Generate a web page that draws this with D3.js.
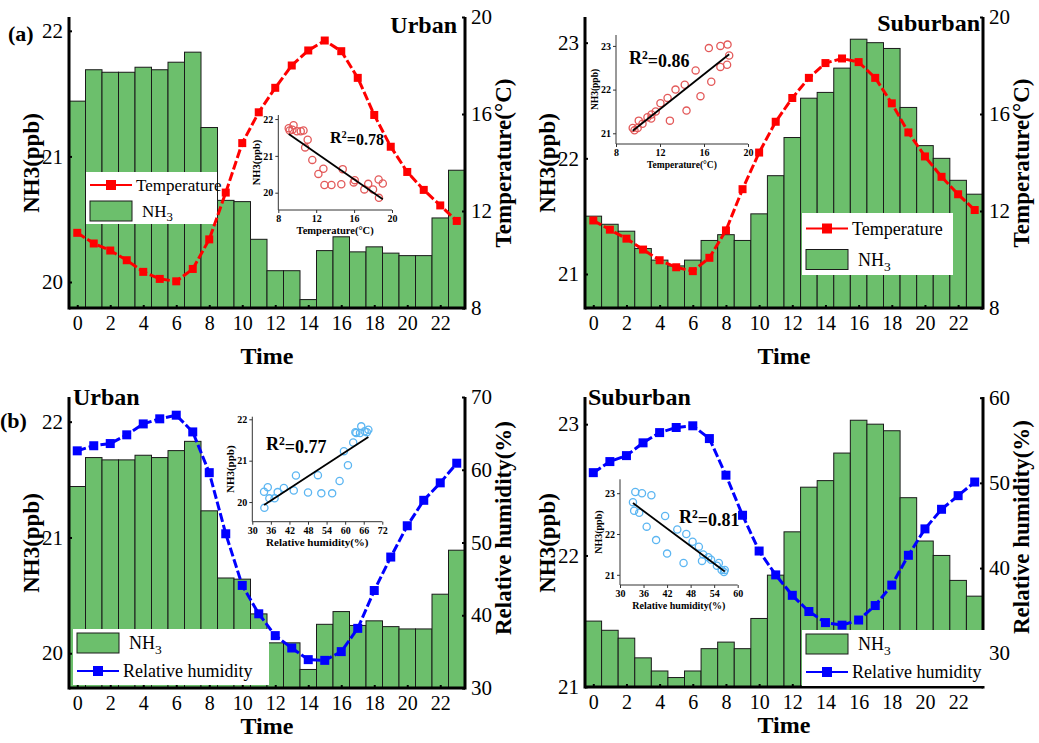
<!DOCTYPE html>
<html>
<head>
<meta charset="utf-8">
<script src="https://cdn.jsdelivr.net/npm/d3@7"></script>
<style>
  body { margin: 0; background: #fff; }
  svg { display: block; }
  text { font-family: "Liberation Serif", "Times New Roman", serif; }
</style>
</head>
<body>
<svg id="chart" width="1039" height="743"></svg>
<script>
// ---------------- DATA ----------------
const hours = [0,1,2,3,4,5,6,7,8,9,10,11,12,13,14,15,16,17,18,19,20,21,22,23];
const hourTicks = [0,2,4,6,8,10,12,14,16,18,20,22];

const urbanNH3 = [21.44,21.69,21.67,21.67,21.71,21.69,21.75,21.83,21.23,20.65,20.64,20.34,
                  20.09,20.09,19.86,20.25,20.36,20.24,20.28,20.23,20.21,20.21,20.51,20.89];
const suburbanNH3 = [21.50,21.43,21.37,21.22,21.12,21.07,21.12,21.29,21.34,21.29,21.52,21.85,
                     22.18,22.52,22.57,22.78,23.03,23.00,22.95,22.44,22.11,22.00,21.81,21.69];
const urbanTemp = [11.10,10.66,10.37,9.97,9.49,9.20,9.10,9.61,10.83,12.76,14.80,16.07,
                   17.08,18.00,18.62,19.03,18.59,17.49,15.96,14.65,13.61,12.87,12.23,11.59];
const suburbanTemp = [11.61,11.23,10.86,10.41,9.97,9.68,9.52,10.07,11.20,12.90,14.41,15.68,
                      16.66,17.49,18.10,18.29,18.14,17.49,16.44,15.24,14.25,13.41,12.69,12.04];
const urbanRH = [62.6,63.3,63.6,64.8,66.3,67.0,67.5,65.2,59.6,51.2,44.1,40.2,
                 37.2,35.5,33.9,33.8,35.0,38.2,43.4,48.0,52.3,55.8,58.2,60.9];
const suburbanRH = [51.2,52.5,53.2,54.7,55.9,56.5,56.7,55.2,50.9,46.2,42.0,39.2,
                    36.8,34.9,33.6,33.3,33.9,35.6,38.0,41.5,44.6,46.9,48.5,50.1];

const r2Labels = ["0.78", "0.86", "0.77", "0.81"];
const urbanNH3Ticks = [20, 21, 22];
const suburbanNH3Ticks = [21, 22, 23];
const tempTicks = [8, 12, 16, 20];
const urbanRHTicks = [30, 40, 50, 60, 70];
const suburbanRHTicks = [30, 40, 50, 60];
const insetTempTicks = [8, 12, 16, 20];
const insetUrbanRHTicks = [30, 36, 42, 48, 54, 60, 66, 72];
const insetSuburbanRHTicks = [30, 36, 42, 48, 54, 60];

// ---------------- STYLE ----------------
const barFill = "#6cbf6c";
const red = "#ff0000";
const blue = "#0000ff";
const scatterRed = "#e35a5a";
const scatterBlue = "#5cb6f2";
const serif = '"Liberation Serif", "Times New Roman", serif';

const svg = d3.select("#chart");

function panel(cfg) {
  const g = svg.append("g");
  const x = d3.scaleLinear().domain([-0.5, 23.5]).range([cfg.x0, cfg.x1]);
  const yL = d3.scaleLinear().domain(cfg.leftDomain).range([cfg.y1, cfg.y0]);
  const yR = d3.scaleLinear().domain(cfg.rightDomain).range([cfg.y1, cfg.y0]);
  const bw = x(1) - x(0);

  // bars
  g.append("g").selectAll("rect").data(hours).join("rect")
    .attr("x", d => x(d) - bw / 2)
    .attr("width", bw)
    .attr("y", d => yL(cfg.nh3[d]))
    .attr("height", d => cfg.y1 - yL(cfg.nh3[d]))
    .attr("fill", barFill)
    .attr("stroke", "#1a1a1a")
    .attr("stroke-width", 1);

  // legend
  const L = cfg.legend;
  const lg = g.append("g");
  lg.append("rect").attr("x", L.x).attr("y", L.y).attr("width", L.w).attr("height", L.h).attr("fill", "#fff");
  const rowLine = cfg.lineFirst ? 0 : 1;
  const rowH = L.h / 2;
  const lineY = L.y + rowH * rowLine + rowH / 2;
  const barY = L.y + rowH * (1 - rowLine) + rowH / 2;
  lg.append("line").attr("x1", L.x + 4).attr("x2", L.x + 46).attr("y1", lineY).attr("y2", lineY)
    .attr("stroke", cfg.color).attr("stroke-width", 2);
  lg.append("rect").attr("x", L.x + 25 - 5).attr("y", lineY - 5).attr("width", 10).attr("height", 10).attr("fill", cfg.color);
  lg.append("text").attr("x", L.x + 50).attr("y", lineY).attr("dy", "0.35em")
    .attr("font-size", L.fs).text(cfg.lineLabel);
  lg.append("rect").attr("x", L.x + 4).attr("y", barY - 10).attr("width", 42).attr("height", 20)
    .attr("fill", barFill).attr("stroke", "#1a1a1a").attr("stroke-width", 1);
  const nt = lg.append("text").attr("x", L.x + 56).attr("y", barY).attr("dy", "0.35em").attr("font-size", L.fs);
  nt.append("tspan").text("NH");
  nt.append("tspan").attr("dy", "0.35em").attr("font-size", L.fs * 0.75).text("3");

  // line + markers
  const line = d3.line().x(d => x(d)).y(d => yR(cfg.series[d]));
  g.append("path").datum(hours).attr("d", line).attr("fill", "none")
    .attr("stroke", cfg.color).attr("stroke-width", 3).attr("stroke-dasharray", "9,3");
  g.append("g").selectAll("rect").data(hours).join("rect")
    .attr("x", d => x(d) - cfg.ms / 2).attr("y", d => yR(cfg.series[d]) - cfg.ms / 2)
    .attr("width", cfg.ms).attr("height", cfg.ms).attr("fill", cfg.color);

  // axes
  const axX = d3.axisBottom(x).tickValues(hourTicks).tickSize(-3).tickPadding(8).tickFormat(d3.format("d"));
  const gx = g.append("g").attr("transform", `translate(0,${cfg.y1})`).call(axX);
  const axL = d3.axisLeft(yL).tickValues(cfg.leftTicks).tickSize(-3).tickPadding(6).tickFormat(d3.format("d"));
  const gl = g.append("g").attr("transform", `translate(${cfg.x0},0)`).call(axL);
  const axR = d3.axisRight(yR).tickValues(cfg.rightTicks).tickSize(-3).tickPadding(6).tickFormat(d3.format("d"));
  const gr = g.append("g").attr("transform", `translate(${cfg.x1},0)`).call(axR);
  [gx, gl, gr].forEach(a => {
    a.select(".domain").remove();
    a.selectAll(".tick line").attr("stroke", "#000").attr("stroke-width", 2);
    a.selectAll("text").attr("font-size", 21).attr("fill", "#000").style("font-family", serif);
  });
  gx.selectAll("text").attr("font-size", 20);
  // axis lines
  g.append("line").attr("x1", cfg.x0).attr("x2", cfg.x0).attr("y1", cfg.y0).attr("y2", cfg.y1 + 1.5).attr("stroke", "#000").attr("stroke-width", 3);
  g.append("line").attr("x1", cfg.x1).attr("x2", cfg.x1).attr("y1", cfg.y0).attr("y2", cfg.y1 + 1.5).attr("stroke", "#000").attr("stroke-width", 3);
  g.append("line").attr("x1", cfg.x0).attr("x2", cfg.x1).attr("y1", cfg.y1).attr("y2", cfg.y1).attr("stroke", "#000").attr("stroke-width", 3);

  // legend drawn over right axis where it overlaps
  if (cfg.legendOnTop) g.node().appendChild(lg.node());

  // titles
  g.append("text").attr("x", (cfg.x0 + cfg.x1) / 2).attr("y", cfg.y1 + cfg.timeOff).attr("text-anchor", "middle")
    .attr("font-size", 24).attr("font-weight", "bold").text("Time");
  g.append("text").attr("transform", `translate(${cfg.x0 - 38},${cfg.ylabY}) rotate(-90)`)
    .attr("text-anchor", "middle").attr("dy", "0.35em").attr("font-size", 23).attr("font-weight", "bold").text("NH3(ppb)");
  g.append("text").attr("transform", `translate(${cfg.x1 + 38},${cfg.yrlabY}) rotate(-90)`)
    .attr("text-anchor", "middle").attr("dy", "0.35em").attr("font-size", 23).attr("font-weight", "bold").text(cfg.rightTitle);
  g.append("text").attr("x", cfg.site.x).attr("y", cfg.site.y).attr("text-anchor", cfg.site.anchor)
    .attr("dy", "0.35em").attr("font-size", 24).attr("font-weight", "bold").text(cfg.site.text);

  // inset
  const I = cfg.inset;
  const ix = d3.scaleLinear().domain(I.xDomain).range([I.x0, I.x1]);
  const iy = d3.scaleLinear().domain(I.yDomain).range([I.y1, I.y0]);
  const ig = g.append("g");
  const pts = hours.map(h => [cfg.series[h], cfg.nh3[h]]);
  ig.append("g").selectAll("circle").data(pts).join("circle")
    .attr("cx", d => ix(d[0])).attr("cy", d => iy(d[1])).attr("r", 3.6)
    .attr("fill", "none").attr("stroke", I.color).attr("stroke-width", 1.3);
  // least squares fit
  const mx = d3.mean(pts, d => d[0]), my = d3.mean(pts, d => d[1]);
  const slope = d3.sum(pts, d => (d[0] - mx) * (d[1] - my)) / d3.sum(pts, d => (d[0] - mx) ** 2);
  const icpt = my - slope * mx;
  const [xmin, xmax] = d3.extent(pts, d => d[0]);
  ig.append("line").attr("x1", ix(xmin)).attr("y1", iy(icpt + slope * xmin))
    .attr("x2", ix(xmax)).attr("y2", iy(icpt + slope * xmax)).attr("stroke", "#000").attr("stroke-width", 1.8);
  const iax = d3.axisBottom(ix).tickValues(I.xTicks).tickSize(3).tickPadding(2).tickFormat(d3.format("d"));
  const iay = d3.axisLeft(iy).tickValues(I.yTicks).tickSize(3).tickPadding(2).tickFormat(d3.format("d"));
  const gix = ig.append("g").attr("transform", `translate(0,${I.y1})`).call(iax);
  const giy = ig.append("g").attr("transform", `translate(${I.x0},0)`).call(iay);
  [gix, giy].forEach(a => {
    a.select(".domain").remove();
    a.selectAll(".tick line").attr("stroke", "#333");
    a.selectAll("text").attr("font-size", I.fs).attr("font-weight", "bold").attr("fill", "#000").style("font-family", serif);
  });
  ig.append("line").attr("x1", I.x0).attr("x2", I.x1).attr("y1", I.y1).attr("y2", I.y1).attr("stroke", "#333").attr("stroke-width", 1);
  ig.append("line").attr("x1", I.x0).attr("x2", I.x0).attr("y1", I.y0).attr("y2", I.y1).attr("stroke", "#333").attr("stroke-width", 1);
  ig.append("text").attr("x", (I.x0 + I.x1) / 2).attr("y", I.y1 + I.fs + 14).attr("text-anchor", "middle")
    .attr("font-size", I.tfs).attr("font-weight", "bold").text(I.xTitle);
  ig.append("text").attr("transform", `translate(${I.x0 - I.fs - 8},${(I.y0 + I.y1) / 2}) rotate(-90)`)
    .attr("text-anchor", "middle").attr("font-size", I.tfs).attr("font-weight", "bold").text("NH3(ppb)");
  const rt = ig.append("text").attr("x", I.r2x).attr("y", I.r2y).attr("dy", "0.35em")
    .attr("font-size", I.r2fs).attr("font-weight", "bold");
  rt.append("tspan").text("R");
  rt.append("tspan").attr("dy", "-0.45em").attr("font-size", I.r2fs * 0.65).text("2");
  rt.append("tspan").attr("dy", "0.45em").text("=" + cfg.r2);
}

// Panel (a) urban
panel({
  x0: 69, x1: 465, y0: 17, y1: 308, timeOff: 56,
  leftDomain: [19.793, 22.11], rightDomain: [8, 20],
  leftTicks: urbanNH3Ticks, rightTicks: tempTicks,
  nh3: urbanNH3, series: urbanTemp, color: red, ms: 8,
  lineLabel: "Temperature", lineFirst: true,
  legend: { x: 86, y: 172, w: 131, h: 52, fs: 17 },
  rightTitle: "Temperature(°C)", ylabY: 163, yrlabY: 163,
  site: { text: "Urban", x: 457, y: 25, anchor: "end" },
  r2: r2Labels[0],
  inset: { x0: 278.3, x1: 392, y0: 115, y1: 210, xDomain: [8, 20], yDomain: [19.53, 22.11],
           xTicks: insetTempTicks, yTicks: [20, 21, 22], color: scatterRed, fs: 10, tfs: 10.5, r2fs: 16,
           xTitle: "Temperature(°C)", r2x: 330, r2y: 137 }
});

// Panel (a) suburban
panel({
  x0: 585, x1: 983, y0: 17, y1: 308, timeOff: 56,
  leftDomain: [20.706, 23.222], rightDomain: [8, 20],
  leftTicks: suburbanNH3Ticks, rightTicks: tempTicks,
  nh3: suburbanNH3, series: suburbanTemp, color: red, ms: 8,
  lineLabel: "Temperature", lineFirst: true,
  legend: { x: 802, y: 213, w: 151, h: 62, fs: 18 },
  rightTitle: "Temperature(°C)", ylabY: 163, yrlabY: 163,
  site: { text: "Suburban", x: 980, y: 23, anchor: "end" },
  r2: r2Labels[1],
  inset: { x0: 616, x1: 748, y0: 35, y1: 144, xDomain: [8, 20], yDomain: [20.755, 23.25],
           xTicks: insetTempTicks, yTicks: [21, 22, 23], color: scatterRed, fs: 10, tfs: 9.5, r2fs: 18,
           xTitle: "Temperature(°C)", r2x: 629, r2y: 58 }
});

// Panel (b) urban
panel({
  x0: 69, x1: 465, y0: 397, y1: 688, timeOff: 46,
  leftDomain: [19.70, 22.213], rightDomain: [30, 70],
  leftTicks: urbanNH3Ticks, rightTicks: urbanRHTicks,
  nh3: urbanNH3, series: urbanRH, color: blue, ms: 9,
  lineLabel: "Relative humidity", lineFirst: false,
  legend: { x: 73, y: 629, w: 196, h: 56, fs: 18 },
  rightTitle: "Relative humidity(%)", ylabY: 543, yrlabY: 528,
  site: { text: "Urban", x: 73, y: 397, anchor: "start" },
  r2: r2Labels[2],
  inset: { x0: 252.3, x1: 382.3, y0: 416.7, y1: 521.7, xDomain: [30, 72], yDomain: [19.525, 22.063],
           xTicks: insetUrbanRHTicks, yTicks: [20, 21, 22], color: scatterBlue, fs: 10, tfs: 11, r2fs: 18,
           xTitle: "Relative humidity(%)", r2x: 266, r2y: 444 }
});

// Panel (b) suburban
panel({
  x0: 585, x1: 983, y0: 397, y1: 687, timeOff: 46,
  leftDomain: [20.998, 23.207], rightDomain: [26.04, 60.08],
  leftTicks: suburbanNH3Ticks, rightTicks: suburbanRHTicks,
  nh3: suburbanNH3, series: suburbanRH, color: blue, ms: 9,
  lineLabel: "Relative humidity", lineFirst: false, legendOnTop: true,
  legend: { x: 802, y: 630, w: 185, h: 56, fs: 18 },
  rightTitle: "Relative humidity(%)", ylabY: 543, yrlabY: 527,
  site: { text: "Suburban", x: 588, y: 397, anchor: "start" },
  r2: r2Labels[3],
  inset: { x0: 620, x1: 737.7, y0: 479.3, y1: 585, xDomain: [30, 60], yDomain: [20.75, 23.34],
           xTicks: insetSuburbanRHTicks, yTicks: [21, 22, 23], color: scatterBlue, fs: 10, tfs: 10, r2fs: 18,
           xTitle: "Relative humidity(%)", r2x: 679, r2y: 517 }
});

// panel letters
svg.append("text").attr("x", 8).attr("y", 33).attr("dy", "0.35em").attr("font-size", 22).attr("font-weight", "bold").text("(a)");
svg.append("text").attr("x", 0).attr("y", 420).attr("dy", "0.35em").attr("font-size", 22).attr("font-weight", "bold").text("(b)");
</script>
</body>
</html>
